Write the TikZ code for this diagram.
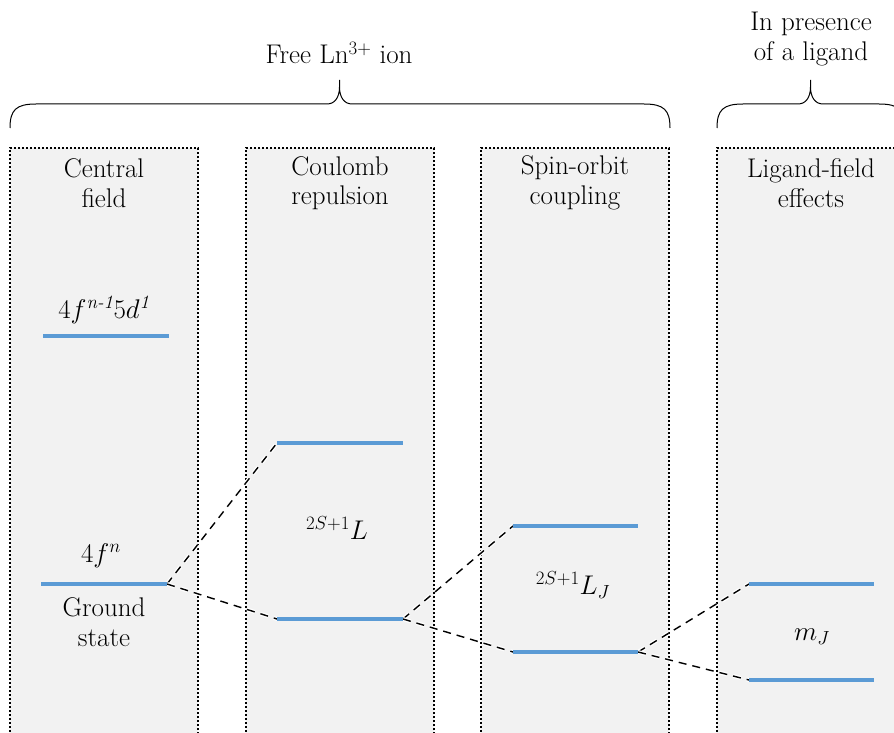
\RequirePackage{fix-cm}
\documentclass[tikz,border=0pt]{standalone}
\usepackage{amsmath}
\definecolor{panelgray}{HTML}{F2F2F2}
\definecolor{levelblue}{HTML}{5B9BD5}
\begin{document}
\begin{tikzpicture}[x=1pt,y=-1pt,
  panel/.style={fill=panelgray, draw=black, line width=2pt, dash pattern=on 2pt off 2pt},
  level/.style={draw=levelblue, line width=4pt},
  link/.style={draw=black, line width=1.4pt, dash pattern=on 8pt off 6pt,
    preaction={draw=white, line width=4pt, dash pattern=on 8pt off 6pt}},
  bracket/.style={draw=black, line width=1pt},
  heading/.style={align=center, font=\fontsize{27}{29.4}\selectfont},
  term/.style={font=\fontsize{27}{32}\selectfont}]
\useasboundingbox (0,0) rectangle (894,733);
\begin{scope}
\clip (0,0) rectangle (894,733);
% four stages, open at the bottom
\foreach \n/\x in {1/10, 2/246, 3/481, 4/717}{
  \path[panel] (\x,800) -- (\x,148) -- (\x+188,148) -- (\x+188,800);
}
% braces over the free ion and the ligand stage
\draw[bracket] (10,128) .. controls (10,110) and (16,104) .. (36,104)
  -- (327,104) .. controls (335,104) and (339.5,97) .. (339.5,87) -- (339.5,80)
  -- (339.5,87) .. controls (339.5,97) and (344,104) .. (352,104)
  -- (644,104) .. controls (664,104) and (670,110) .. (670,128);
\draw[bracket] (717,128) .. controls (717,110) and (723,104) .. (743,104)
  -- (798,104) .. controls (806,104) and (810.5,97) .. (810.5,87) -- (810.5,80)
  -- (810.5,87) .. controls (810.5,97) and (815,104) .. (823,104)
  -- (879,104) .. controls (899,104) and (905,110) .. (905,128);
\end{scope}

\node[heading] (free) at (339,53) {Free Ln$^{3+}$ ion};
\node[heading] (lig) at (811,39) {In presence\\of a ligand};

\node[heading] (h1) at (104,183) {Central\\field};
\node[heading] (h2) at (340,183) {Coulomb\\repulsion};
\node[heading] (h3) at (575,183) {Spin-orbit\\coupling};
\node[heading] (h4) at (811,183) {Ligand-field\\effects};

% energy levels
\coordinate (d-l) at (43,336);  \coordinate (d-r) at (169,336);
\coordinate (f-l) at (41,584);  \coordinate (f-r) at (167,584);
\coordinate (c1-l) at (277,443); \coordinate (c1-r) at (403,443);
\coordinate (c2-l) at (277,619); \coordinate (c2-r) at (403,619);
\coordinate (s1-l) at (513,526); \coordinate (s1-r) at (638,526);
\coordinate (s2-l) at (513,652); \coordinate (s2-r) at (638,652);
\coordinate (m1-l) at (749,584); \coordinate (m1-r) at (874,584);
\coordinate (m2-l) at (749,680); \coordinate (m2-r) at (874,680);

\draw[link] (f-r) -- (c1-l);
\draw[link] (f-r) -- (c2-l);
\draw[link] (c2-r) -- (s1-l);
\draw[link] (c2-r) -- (s2-l);
\draw[link] (s2-r) -- (m1-l);
\draw[link] (s2-r) -- (m2-l);

\foreach \a/\b in {d-l/d-r, f-l/f-r, c1-l/c1-r, c2-l/c2-r, s1-l/s1-r, s2-l/s2-r, m1-l/m1-r, m2-l/m2-r}
  \draw[level] (\a) -- (\b);

% level labels
\node[term] (t1) at (104,310) {$4f^{\textit{n-1}}5d^{\textit{1}}$};
\node[term] (t2) at (101,556) {$4f^{n}$};
\node[heading] (gs) at (104,622) {Ground\\state};
\node[term] (t3) at (337,528) {$^{2S+1}L$};
\node[term] (t4) at (573,585) {$^{2S+1}L_J$};
\node[term] (t5) at (812,637) {$m_J$};
\end{tikzpicture}
\end{document}
